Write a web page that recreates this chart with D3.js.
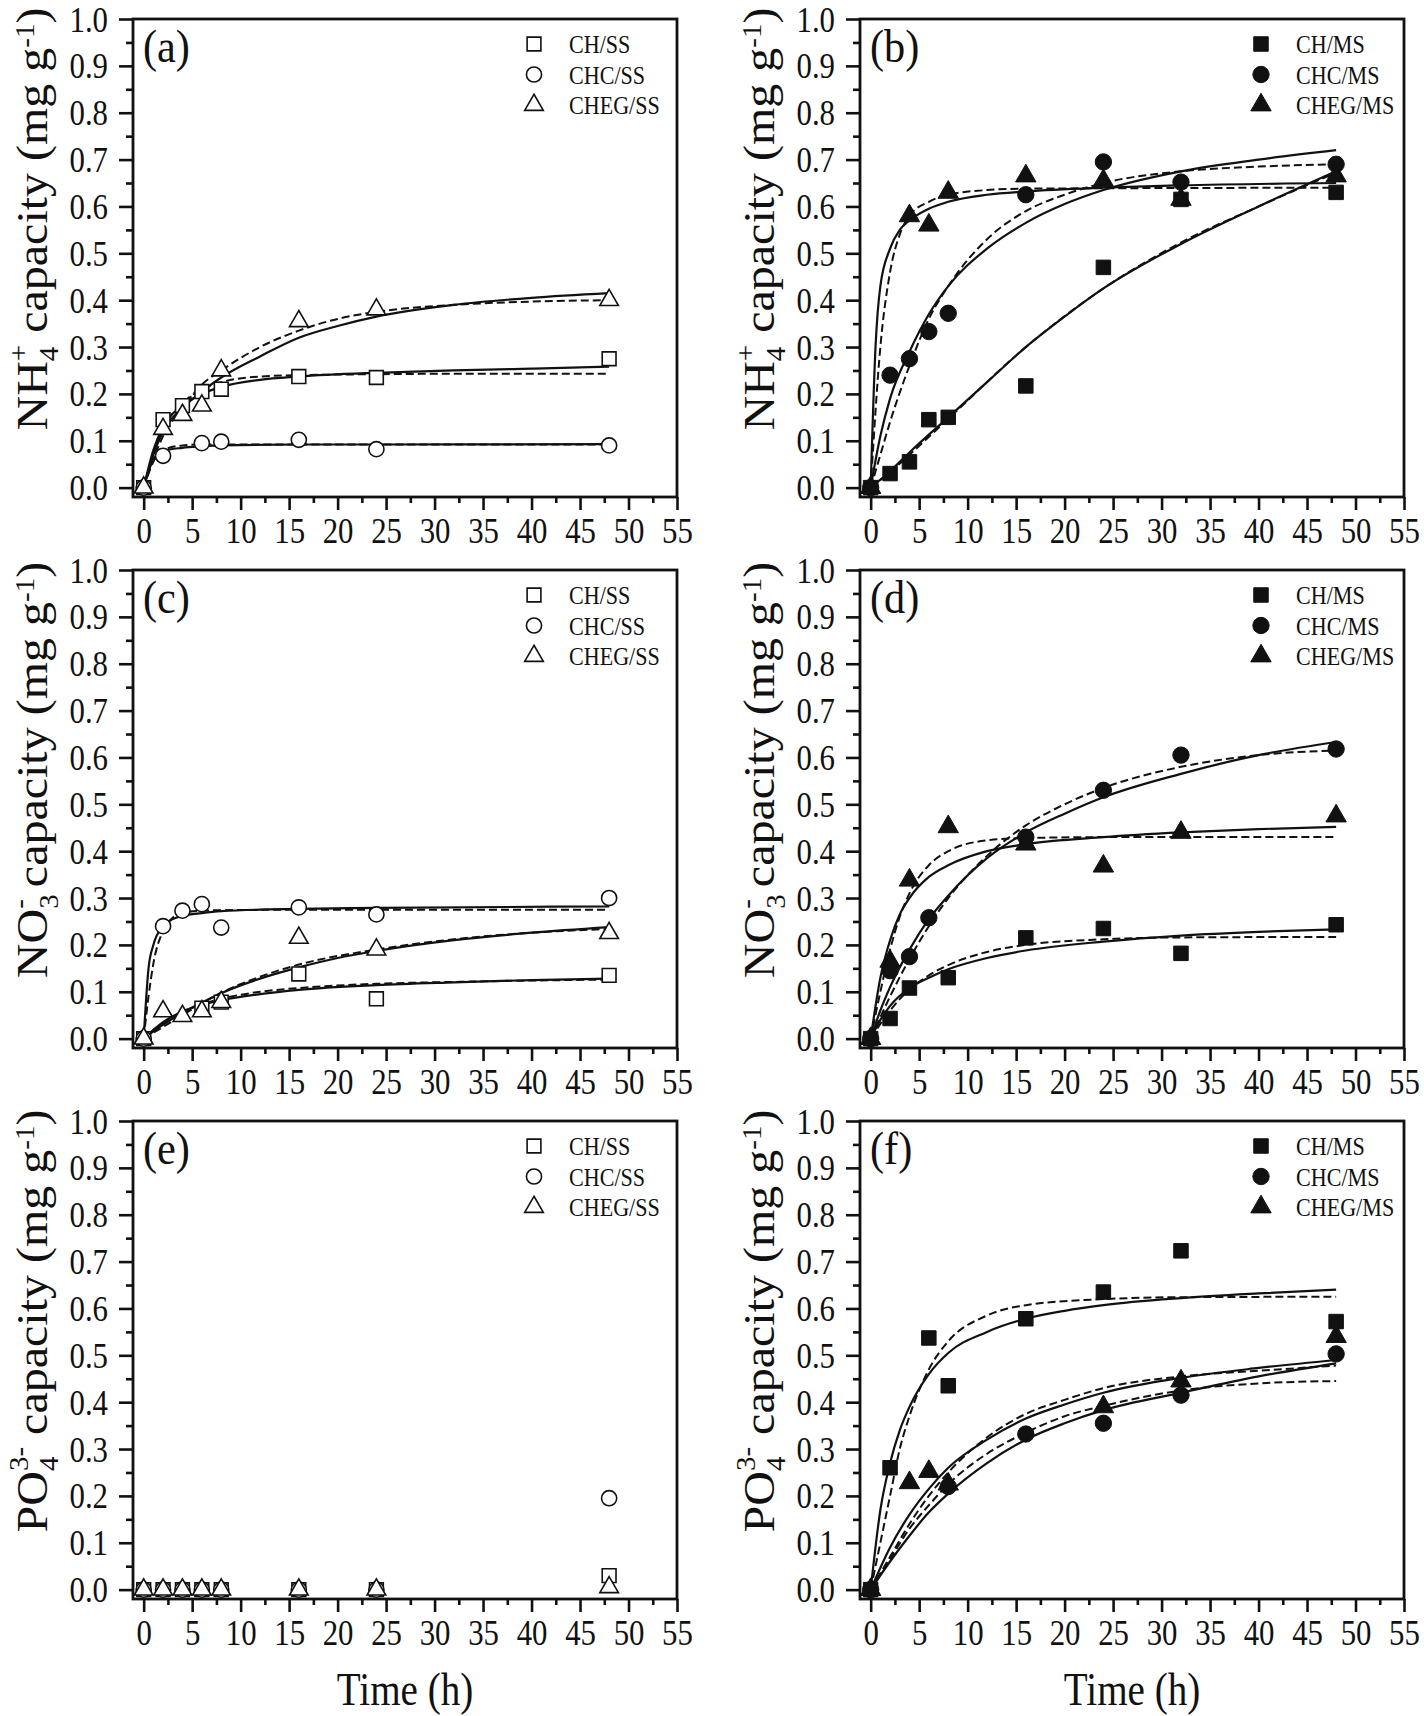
<!DOCTYPE html>
<html><head><meta charset="utf-8">
<script src="https://cdn.jsdelivr.net/npm/d3@7"></script>
<style>body{margin:0;background:#fff}svg{display:block}text{font-family:"Liberation Serif","Times New Roman",serif;fill:#111}</style>
</head><body><svg id="chart" width="1424" height="1716"></svg>
<script>
// ---------- tick labels ----------
const xTickValues = [0,5,10,15,20,25,30,35,40,45,50,55];
const yTickValues = [0,0.1,0.2,0.3,0.4,0.5,0.6,0.7,0.8,0.9,1.0];
const yTickLabels = ["0.0","0.1","0.2","0.3","0.4","0.5","0.6","0.7","0.8","0.9","1.0"];
const panelLabels = ["(a)","(b)","(c)","(d)","(e)","(f)"];
const namesSS = ["CH/SS","CHC/SS","CHEG/SS"];
const namesMS = ["CH/MS","CHC/MS","CHEG/MS"];

// ---------- (a) NH4+ , SS ----------
const a_CH   = [[0,0],[2,0.145],[4,0.175],[6,0.205],[8,0.21],[16,0.237],[24,0.235],[48,0.275]];
const a_CHC  = [[0,0],[2,0.068],[6,0.095],[8,0.098],[16,0.102],[24,0.082],[48,0.09]];
const a_CHEG = [[0,0],[2,0.125],[4,0.155],[6,0.175],[8,0.25],[16,0.355],[24,0.38],[48,0.40]];
const a_CH_s   = [[0,0],[1,0.08],[2,0.13],[4,0.175],[6,0.2],[8,0.215],[12,0.23],[16,0.237],[24,0.245],[32,0.25],[40,0.254],[48,0.258]];
const a_CH_d   = [[0,0],[1,0.07],[2,0.125],[4,0.18],[6,0.21],[8,0.225],[12,0.237],[16,0.24],[24,0.242],[32,0.243],[48,0.243]];
const a_CHC_s  = [[0,0],[1,0.06],[2,0.078],[4,0.085],[6,0.088],[8,0.09],[16,0.092],[24,0.092],[48,0.093]];
const a_CHC_d  = [[0,0],[1,0.055],[2,0.08],[4,0.09],[6,0.092],[8,0.092],[48,0.092]];
const a_CHEG_s = [[0,0],[1,0.07],[2,0.12],[4,0.17],[6,0.205],[8,0.235],[12,0.28],[16,0.32],[20,0.345],[24,0.365],[32,0.39],[40,0.405],[48,0.415]];
const a_CHEG_d = [[0,0],[1,0.06],[2,0.11],[4,0.17],[6,0.22],[8,0.25],[12,0.3],[16,0.335],[20,0.36],[24,0.375],[32,0.39],[40,0.397],[48,0.40]];

// ---------- (b) NH4+ , MS ----------
const b_CH   = [[0,0],[2,0.03],[4,0.055],[6,0.145],[8,0.15],[16,0.217],[24,0.47],[32,0.615],[48,0.63]];
const b_CHC  = [[0,0],[2,0.24],[4,0.275],[6,0.333],[8,0.372],[16,0.625],[24,0.695],[32,0.652],[48,0.69]];
const b_CHEG = [[0,0],[4,0.58],[6,0.56],[8,0.63],[16,0.665],[24,0.655],[32,0.615],[48,0.665]];
const b_CH_s   = [[0,0],[2,0.035],[4,0.075],[8,0.15],[12,0.225],[16,0.3],[20,0.365],[24,0.425],[32,0.52],[40,0.6],[48,0.675]];
const b_CH_d   = [[0,0],[2,0.033],[4,0.07],[8,0.147],[16,0.3],[24,0.425],[32,0.523],[40,0.6],[48,0.672]];
const b_CHC_s  = [[0,0],[1,0.11],[2,0.19],[4,0.29],[6,0.37],[8,0.43],[12,0.51],[16,0.565],[20,0.605],[24,0.635],[32,0.675],[40,0.7],[48,0.72]];
const b_CHC_d  = [[0,0],[1,0.07],[2,0.14],[4,0.26],[6,0.36],[8,0.43],[12,0.53],[16,0.59],[20,0.625],[24,0.65],[32,0.675],[40,0.685],[48,0.69]];
const b_CHEG_s = [[0,0],[0.5,0.3],[1,0.43],[2,0.51],[3,0.55],[4,0.57],[6,0.595],[8,0.61],[12,0.625],[16,0.632],[24,0.64],[32,0.645],[48,0.65]];
const b_CHEG_d = [[0,0],[1,0.3],[2,0.46],[3,0.54],[4,0.58],[6,0.61],[8,0.625],[12,0.635],[16,0.638],[48,0.64]];

// ---------- (c) NO3- , SS ----------
const c_CH   = [[0,0],[6,0.065],[8,0.078],[16,0.138],[24,0.085],[48,0.135]];
const c_CHC  = [[0,0],[2,0.24],[4,0.273],[6,0.287],[8,0.237],[16,0.28],[24,0.265],[48,0.30]];
const c_CHEG = [[0,0],[2,0.058],[4,0.048],[6,0.058],[8,0.078],[16,0.215],[24,0.19],[48,0.225]];
const c_CH_s   = [[0,0],[2,0.035],[4,0.058],[6,0.072],[8,0.082],[12,0.095],[16,0.104],[24,0.114],[32,0.12],[40,0.125],[48,0.128]];
const c_CH_d   = [[0,0],[2,0.03],[4,0.055],[6,0.073],[8,0.085],[12,0.1],[16,0.108],[24,0.117],[32,0.121],[40,0.124],[48,0.126]];
const c_CHC_s  = [[0,0],[0.5,0.15],[1,0.2],[2,0.24],[3,0.255],[4,0.262],[6,0.268],[8,0.272],[16,0.277],[24,0.279],[48,0.282]];
const c_CHC_d  = [[0,0],[0.5,0.09],[1,0.16],[2,0.23],[3,0.258],[4,0.268],[6,0.273],[8,0.274],[16,0.275],[48,0.275]];
const c_CHEG_s = [[0,0],[2,0.03],[4,0.055],[6,0.077],[8,0.097],[12,0.128],[16,0.152],[20,0.172],[24,0.187],[32,0.21],[40,0.226],[48,0.238]];
const c_CHEG_d = [[0,0],[2,0.025],[4,0.05],[6,0.075],[8,0.098],[12,0.132],[16,0.158],[24,0.19],[32,0.212],[40,0.226],[48,0.234]];

// ---------- (d) NO3- , MS ----------
const d_CH   = [[0,0],[2,0.043],[4,0.108],[8,0.13],[16,0.215],[24,0.235],[32,0.182],[48,0.243]];
const d_CHC  = [[0,0],[2,0.145],[4,0.175],[6,0.258],[16,0.43],[24,0.53],[32,0.605],[48,0.618]];
const d_CHEG = [[0,0],[2,0.165],[4,0.338],[8,0.452],[16,0.415],[24,0.368],[32,0.44],[48,0.475]];
const d_CH_s   = [[0,0],[1,0.04],[2,0.07],[4,0.108],[6,0.13],[8,0.148],[12,0.172],[16,0.188],[24,0.207],[32,0.22],[40,0.228],[48,0.233]];
const d_CH_d   = [[0,0],[2,0.06],[4,0.105],[6,0.135],[8,0.157],[12,0.185],[16,0.2],[24,0.212],[32,0.216],[48,0.217]];
const d_CHC_s  = [[0,0],[1,0.06],[2,0.11],[4,0.19],[6,0.255],[8,0.305],[12,0.385],[16,0.44],[20,0.48],[24,0.515],[32,0.565],[40,0.605],[48,0.633]];
const d_CHC_d  = [[0,0],[2,0.09],[4,0.17],[6,0.24],[8,0.3],[12,0.39],[16,0.455],[20,0.5],[24,0.535],[32,0.58],[40,0.605],[48,0.615]];
const d_CHEG_s = [[0,0],[1,0.13],[2,0.21],[3,0.265],[4,0.3],[6,0.345],[8,0.37],[12,0.4],[16,0.415],[24,0.43],[32,0.44],[40,0.447],[48,0.452]];
const d_CHEG_d = [[0,0],[1,0.1],[2,0.19],[3,0.26],[4,0.31],[6,0.37],[8,0.4],[12,0.423],[16,0.428],[24,0.43],[48,0.43]];

// ---------- (e) PO4 3- , SS ----------
const e_CH   = [[0,0],[2,0],[4,0],[6,0],[8,0],[16,0],[24,0],[48,0.03]];
const e_CHC  = [[0,0],[2,0],[4,0],[6,0],[8,0],[16,0],[24,0],[48,0.195]];
const e_CHEG = [[0,0],[2,0],[4,0],[6,0],[8,0],[16,0],[24,0],[48,0.005]];

// ---------- (f) PO4 3- , MS ----------
const f_CH   = [[0,0],[2,0.26],[6,0.537],[8,0.435],[16,0.578],[24,0.635],[32,0.723],[48,0.572]];
const f_CHC  = [[0,0],[8,0.22],[16,0.332],[24,0.355],[32,0.415],[48,0.503]];
const f_CHEG = [[0,0],[4,0.228],[6,0.252],[8,0.225],[24,0.39],[32,0.445],[48,0.54]];
const f_CH_s   = [[0,0],[1,0.17],[2,0.27],[3,0.34],[4,0.39],[6,0.46],[8,0.505],[12,0.55],[16,0.578],[20,0.595],[24,0.607],[32,0.622],[40,0.632],[48,0.64]];
const f_CH_d   = [[0,0],[1,0.1],[2,0.2],[3,0.3],[4,0.37],[6,0.47],[8,0.53],[12,0.585],[16,0.607],[24,0.62],[32,0.624],[48,0.625]];
const f_CHC_s  = [[0,0],[2,0.06],[4,0.115],[6,0.165],[8,0.205],[12,0.27],[16,0.32],[20,0.355],[24,0.383],[32,0.42],[40,0.455],[48,0.483]];
const f_CHC_d  = [[0,0],[2,0.065],[4,0.13],[6,0.18],[8,0.225],[12,0.29],[16,0.335],[20,0.37],[24,0.392],[32,0.425],[40,0.44],[48,0.445]];
const f_CHEG_s = [[0,0],[2,0.09],[4,0.16],[6,0.215],[8,0.26],[12,0.32],[16,0.365],[20,0.395],[24,0.42],[32,0.452],[40,0.473],[48,0.49]];
const f_CHEG_d = [[0,0],[2,0.07],[4,0.14],[6,0.2],[8,0.25],[12,0.325],[16,0.375],[20,0.405],[24,0.43],[32,0.455],[40,0.467],[48,0.478]];

// ---------- assemble ----------
const shapes = ["square","circle","triangle"];
const panels = [
  {ion:"NH", sub:"4", sup:"+",  open:true,  names:namesSS, pts:[a_CH,a_CHC,a_CHEG], solid:[a_CH_s,a_CHC_s,a_CHEG_s], dashed:[a_CH_d,a_CHC_d,a_CHEG_d]},
  {ion:"NH", sub:"4", sup:"+",  open:false, names:namesMS, pts:[b_CH,b_CHC,b_CHEG], solid:[b_CH_s,b_CHC_s,b_CHEG_s], dashed:[b_CH_d,b_CHC_d,b_CHEG_d]},
  {ion:"NO", sub:"3", sup:"-",  open:true,  names:namesSS, pts:[c_CH,c_CHC,c_CHEG], solid:[c_CH_s,c_CHC_s,c_CHEG_s], dashed:[c_CH_d,c_CHC_d,c_CHEG_d]},
  {ion:"NO", sub:"3", sup:"-",  open:false, names:namesMS, pts:[d_CH,d_CHC,d_CHEG], solid:[d_CH_s,d_CHC_s,d_CHEG_s], dashed:[d_CH_d,d_CHC_d,d_CHEG_d]},
  {ion:"PO", sub:"4", sup:"3-", open:true,  names:namesSS, pts:[e_CH,e_CHC,e_CHEG], solid:[], dashed:[]},
  {ion:"PO", sub:"4", sup:"3-", open:false, names:namesMS, pts:[f_CH,f_CHC,f_CHEG], solid:[f_CH_s,f_CHC_s,f_CHEG_s], dashed:[f_CH_d,f_CHC_d,f_CHEG_d]}
];

// ---------- layout / style ----------
const colLeft = [133, 860], rowTop = [19, 570, 1121];
const W = 544, H = 478;
const SX = 0.85, SXT = 0.88;
const tickF = 35, legF = 26, labF = 47, titF = 48, timeF = 46;
const INK = "#111";

const svg = d3.select("#chart");
svg.append("rect").attr("width",1424).attr("height",1716).attr("fill","#fff");

function sym(shape, open) {
  const t = shape==="square" ? d3.symbolSquare : shape==="circle" ? d3.symbolCircle : d3.symbolTriangle;
  const size = shape==="square" ? (open?190:210) : shape==="circle" ? (open?180:210) : (open?150:180);
  return d3.symbol().type(t).size(size)();
}

panels.forEach((p, i) => {
  const col = i % 2, row = Math.floor(i / 2);
  const left = colLeft[col], top = rowTop[row];
  const g = svg.append("g").attr("transform", `translate(${left},${top})`);
  const x = d3.scaleLinear().domain([-1.1, 55]).range([0, W]);
  const y = d3.scaleLinear().domain([-0.02, 1.0]).range([H, 0]);

  const xMinor = d3.axisBottom(x).tickValues(d3.range(2.5, 55, 5)).tickSize(6).tickSizeOuter(0).tickFormat("");
  const yMinor = d3.axisLeft(y).tickValues(d3.range(0.05, 1.0, 0.1)).tickSize(7).tickSizeOuter(0).tickFormat("");
  const xMajor = d3.axisBottom(x).tickValues(xTickValues).tickSize(13).tickSizeOuter(0);
  const yMajor = d3.axisLeft(y).tickValues(yTickValues).tickSize(14).tickSizeOuter(0).tickFormat((d, k) => yTickLabels[k]);

  const drawAxis = (ax, isX) => {
    const a = g.append("g").attr("transform", isX ? `translate(0,${H})` : null).call(ax);
    a.attr("font-family", null).attr("font-size", null);
    a.select(".domain").remove();
    a.selectAll("line").attr("stroke", INK).attr("stroke-width", 2.6);
    a.selectAll("text").filter(function(){ return d3.select(this).text() !== ""; })
      .attr("font-size", tickF).attr("fill", INK)
      .attr("x", null).attr("y", null).attr("dy", null)
      .attr("text-anchor", isX ? "middle" : "end")
      .attr("transform", isX ? `translate(0,46) scale(${SXT},1)` : `translate(-25,12) scale(${SXT},1)`);
  };
  drawAxis(xMinor, true); drawAxis(xMajor, true);
  drawAxis(yMinor, false); drawAxis(yMajor, false);

  // frame
  g.append("rect").attr("x",0).attr("y",0).attr("width",W).attr("height",H)
    .attr("fill","none").attr("stroke",INK).attr("stroke-width",2.8);

  // fit curves
  const line = d3.line().x(d => x(d[0])).y(d => y(d[1])).curve(d3.curveMonotoneX);
  p.dashed.forEach(c => g.append("path").attr("d", line(c)).attr("fill","none")
    .attr("stroke", INK).attr("stroke-width", 2).attr("stroke-dasharray", "8,4"));
  p.solid.forEach(c => g.append("path").attr("d", line(c)).attr("fill","none")
    .attr("stroke", INK).attr("stroke-width", 2.2));

  // markers
  p.pts.forEach((pts, k) => {
    g.selectAll(null).data(pts).enter().append("path")
      .attr("d", sym(shapes[k], p.open))
      .attr("transform", d => `translate(${x(d[0])},${y(d[1])})`)
      .attr("fill", p.open ? "#fff" : INK)
      .attr("stroke", INK).attr("stroke-width", p.open ? 1.6 : 1);
  });

  // legend
  p.names.forEach((nm, k) => {
    const ly = [25, 55.5, 86][k];
    g.append("path").attr("d", sym(shapes[k], p.open))
      .attr("transform", `translate(${W - 143},${ly})`)
      .attr("fill", p.open ? "#fff" : INK).attr("stroke", INK).attr("stroke-width", p.open ? 1.6 : 1);
    g.append("text").attr("transform", `translate(${W - 108},${ly + 9}) scale(${SX},1)`)
      .attr("font-size", legF).text(nm);
  });

  // panel label
  g.append("text").attr("transform", `translate(10,43) scale(0.9,1)`)
    .attr("font-size", labF).text(panelLabels[i]);

  // y title
  const subF = Math.round(titF * 0.6);
  const yt = g.append("text")
    .attr("transform", `translate(-86,200) scale(0.92,1) rotate(-90)`)
    .attr("text-anchor","middle").attr("font-size", titF);
  yt.append("tspan").text(p.ion);
  yt.append("tspan").attr("font-size", subF).attr("dy", 0.26*titF).text(p.sub);
  yt.append("tspan").attr("font-size", subF).attr("dx", -0.5*subF).attr("dy", -0.7*titF).text(p.sup);
  yt.append("tspan").attr("dy", 0.44*titF).text(" capacity (mg g");
  yt.append("tspan").attr("font-size", subF).attr("dy", -0.3*titF).text("-1");
  yt.append("tspan").attr("dy", 0.3*titF).text(")");

  // x title (bottom row)
  if (row === 2) {
    g.append("text").attr("transform", `translate(${W/2},${H + 106}) scale(${SX},1)`)
      .attr("text-anchor","middle").attr("font-size", timeF).text("Time (h)");
  }
});
</script>
</body></html>
